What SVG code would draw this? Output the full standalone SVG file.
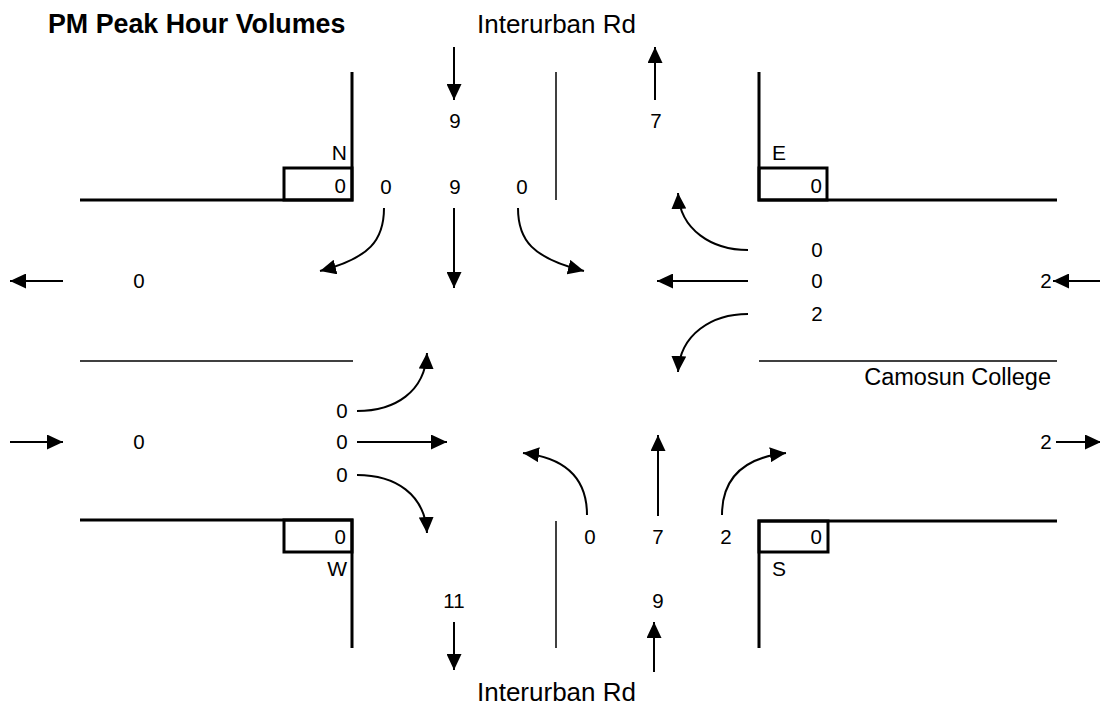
<svg xmlns="http://www.w3.org/2000/svg" width="1100" height="705" viewBox="0 0 1100 705">
<defs>
<marker id="ah" markerUnits="userSpaceOnUse" markerWidth="16" markerHeight="15" refX="16" refY="7.5" orient="auto">
<path d="M0,0 L16,7.5 L0,15 z" fill="#000"/>
</marker>
<style>
text{font-family:"Liberation Sans",Arial,sans-serif;fill:#000}
.t{font-size:26.8px;font-weight:bold}
.rd{font-size:26px}
.n{font-size:20.5px;text-anchor:middle}
.e{font-size:20.5px;text-anchor:end}
.L{font-size:21px}
.thick{fill:none;stroke:#000;stroke-width:3}
.thin{fill:none;stroke:#000;stroke-width:1.5}
.arr{fill:none;stroke:#000;stroke-width:2;marker-end:url(#ah)}
</style>
</defs>
<rect width="1100" height="705" fill="#fff"/>
<text class="t" x="48" y="33">PM Peak Hour Volumes</text>
<g id="road-names">
<text class="rd" x="477" y="33">Interurban Rd</text>
<text class="rd" x="477" y="701">Interurban Rd</text>
<text class="rd" x="1051" y="385" text-anchor="end" style="font-size:23.5px">Camosun College</text>
</g>
<g id="curbs">
<polyline class="thick" points="80,200 352,200 352,72"/>
<rect class="thick" x="284" y="168" width="68" height="32"/>
<polyline class="thick" points="1057,200 759,200 759,72"/>
<rect class="thick" x="759" y="168" width="68" height="32"/>
<polyline class="thick" points="80,520 352,520 352,648"/>
<rect class="thick" x="284" y="520" width="68" height="32"/>
<polyline class="thick" points="1057,521 759,521 759,648"/>
<rect class="thick" x="759" y="521" width="69" height="31"/>
<line class="thin" x1="556" y1="72" x2="556" y2="200"/>
<line class="thin" x1="556" y1="521" x2="556" y2="648"/>
<line class="thin" x1="80" y1="361" x2="353" y2="361"/>
<line class="thin" x1="759" y1="361" x2="1057" y2="361"/>
</g>
<g id="north">
<text class="L" x="347" y="160" text-anchor="end">N</text>
<text class="e" x="346" y="193">0</text>
<text class="n" x="455" y="128">9</text>
<text class="n" x="656" y="128">7</text>
<text class="n" x="386" y="194">0</text>
<text class="n" x="455" y="194">9</text>
<text class="n" x="522" y="194">0</text>
</g>
<g id="east">
<text class="L" x="772" y="160">E</text>
<text class="e" x="822" y="193">0</text>
<text class="n" x="817" y="257">0</text>
<text class="n" x="817" y="288">0</text>
<text class="n" x="817" y="321">2</text>
<text class="n" x="1046" y="288">2</text>
<text class="n" x="1046" y="449">2</text>
</g>
<g id="west">
<text class="n" x="139" y="288">0</text>
<text class="n" x="139" y="449">0</text>
<text class="n" x="342" y="418">0</text>
<text class="n" x="342" y="449">0</text>
<text class="n" x="342" y="482">0</text>
<text class="e" x="346" y="544">0</text>
<text class="L" x="347" y="576" text-anchor="end">W</text>
</g>
<g id="south">
<text class="n" x="590" y="544">0</text>
<text class="n" x="658" y="544">7</text>
<text class="n" x="726" y="544">2</text>
<text class="e" x="822" y="544">0</text>
<text class="L" x="772" y="576">S</text>
<text class="n" x="454" y="608">11</text>
<text class="n" x="658" y="608">9</text>
</g>
<g id="connectors">
<line class="arr" x1="454" y1="47" x2="454" y2="100"/>
<line class="arr" x1="655" y1="100" x2="655" y2="47"/>
<path class="arr" d="M384,208 C384,240 370,258 320,271"/>
<line class="arr" x1="454" y1="208" x2="454" y2="288"/>
<path class="arr" d="M518,208 C518,240 532,258 584,271"/>
<path class="arr" d="M748,250 C712,250 680,230 678,193"/>
<line class="arr" x1="748" y1="281" x2="657" y2="281"/>
<path class="arr" d="M748,314 C712,314 680,334 678,372"/>
<line class="arr" x1="1100" y1="281" x2="1053" y2="281"/>
<line class="arr" x1="63" y1="281" x2="10" y2="281"/>
<line class="arr" x1="10" y1="442" x2="63" y2="442"/>
<path class="arr" d="M357,411 C395,411 425,392 427,353"/>
<line class="arr" x1="357" y1="442" x2="447" y2="442"/>
<path class="arr" d="M357,475 C395,475 425,494 427,533"/>
<path class="arr" d="M587,515 C587,480 568,458 523,453"/>
<line class="arr" x1="658" y1="516" x2="658" y2="435"/>
<path class="arr" d="M722,515 C722,480 741,458 786,453"/>
<line class="arr" x1="1056" y1="442" x2="1101" y2="442"/>
<line class="arr" x1="454" y1="622" x2="454" y2="670"/>
<line class="arr" x1="654" y1="672" x2="654" y2="622"/>
</g>
</svg>
